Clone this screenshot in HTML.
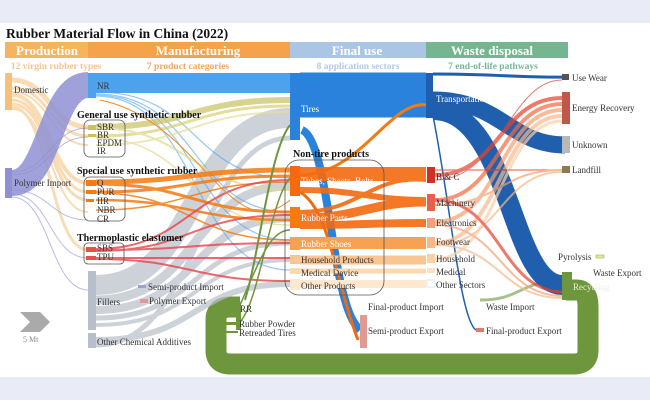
<!DOCTYPE html>
<html><head><meta charset="utf-8"><style>
html,body{margin:0;padding:0;background:#e9ebf7;}
svg{display:block;}
text{font-family:"Liberation Serif",serif;}
</style></head><body>
<svg width="650" height="400" viewBox="0 0 650 400" xmlns="http://www.w3.org/2000/svg">
<rect x="0" y="0" width="650" height="400" fill="#e9ebf7"/>
<rect x="0" y="23" width="650" height="354" fill="#ffffff"/>
<text x="6" y="38" font-size="13.5" font-weight="bold" fill="#111">Rubber Material Flow in China (2022)</text>
<!-- header bars -->
<rect x="5" y="42" width="83" height="16" fill="#f6b45e"/>
<rect x="88" y="42" width="202" height="16" fill="#f5a24c"/>
<rect x="290" y="42" width="136" height="16" fill="#abc5e5"/>
<rect x="426" y="42" width="142" height="16" fill="#73b690"/>
<g font-size="13" font-weight="bold" fill="#fff" text-anchor="middle">
<text x="47" y="55">Production</text><text x="198" y="55">Manufacturing</text>
<text x="357" y="55">Final use</text><text x="492" y="55">Waste disposal</text></g>
<g font-size="9.5" font-weight="bold" text-anchor="middle">
<text x="56" y="69" fill="#f7c48c">12 virgin rubber types</text>
<text x="188" y="69" fill="#f5a550">7 product categories</text>
<text x="358" y="69" fill="#b3c8e6">8 application sectors</text>
<text x="493" y="69" fill="#79b497">7 end-of-life pathways</text></g>

<!-- green recycling loop -->
<path d="M566 290 H576 Q588 290 588 306 V350 Q588 364 574 364 H230 Q216 364 216 350 V320 Q216 307 230 307 H240" fill="none" stroke="#6e963d" stroke-width="21"/>
<path d="M555 282 C520 282 520 300 480 300" fill="none" stroke="#6e963d" stroke-width="3" opacity=".6"/>

<!-- production flows -->
<g fill="none" opacity=".55" stroke="#f5c07a">
<path d="M12 80 C50 80 50 127 88 127" stroke-width="5"/>
<path d="M12 88 C50 88 50 136 88 136" stroke-width="3"/>
<path d="M12 95 C50 95 50 183 88 183" stroke-width="4"/>
<path d="M12 100 C50 100 50 192 88 192" stroke-width="3"/>
<path d="M12 104 C50 104 50 200 88 200" stroke-width="3"/>
<path d="M12 107 C50 107 50 250 88 250" stroke-width="3"/>
<path d="M12 109 C50 109 50 212 88 212" stroke-width="2"/>
<path d="M12 92 C50 92 50 145 88 145" stroke-width="2"/>
</g>
<path d="M12 183 C50 183 50 85 88 85" fill="none" stroke="#8f90d3" stroke-width="26" opacity=".85"/>
<g fill="none" stroke="#8f90d3" opacity=".6" stroke-width="1">
<path d="M12 172 C50 172 50 128 88 128"/><path d="M12 175 C50 175 50 137 88 137"/>
<path d="M12 190 C50 190 50 220 88 220"/><path d="M12 194 C50 194 50 258 88 258"/>
<path d="M12 197 C50 197 50 290 88 290"/>
</g>

<!-- grey filler flows -->
<g fill="none" stroke="#b8bfca" opacity=".7">
<path d="M96 285 C200 285 190 118 290 118" stroke-width="20"/>
<path d="M96 300 C200 300 190 186 290 186" stroke-width="9"/>
<path d="M96 310 C200 310 190 218 290 218" stroke-width="8"/>
<path d="M96 318 C200 318 190 243 290 243" stroke-width="5"/>
<path d="M96 325 C200 325 190 260 290 260" stroke-width="4"/>
<path d="M96 340 C200 340 190 284 290 284" stroke-width="6"/>
<path d="M96 345 C200 345 200 138 290 138" stroke-width="5"/>
</g>

<!-- NR to Tires -->
<path d="M96 83 H290" stroke="#4ea2ec" stroke-width="20" fill="none"/>
<g fill="none" stroke="#4ea2ec" opacity=".6" stroke-width="1.2">
<path d="M96 92 C200 92 190 178 290 178"/><path d="M96 94 C200 94 190 212 290 212"/>
<path d="M96 95 C200 95 190 240 290 240"/><path d="M96 96 C200 96 190 270 290 270"/>
</g>
<!-- SBR etc -->
<g fill="none" opacity=".7">
<path d="M96 127 C190 127 190 100 290 100" stroke="#c9c162" stroke-width="6"/>
<path d="M96 136 C190 136 190 106 290 106" stroke="#d9cf73" stroke-width="3"/>
<path d="M96 145 C190 145 190 112 290 112" stroke="#e6df9a" stroke-width="2"/>
<path d="M96 128 C190 128 190 190 290 190" stroke="#e2d98a" stroke-width="2"/>
<path d="M96 138 C190 138 190 225 290 225" stroke="#e2d98a" stroke-width="1.5"/>
</g>
<!-- special rubber orange -->
<g fill="none" stroke="#f57a10" opacity=".85">
<path d="M96 182 C190 182 190 170 290 170" stroke-width="5"/>
<path d="M96 184 C190 184 190 212 290 212" stroke-width="3"/>
<path d="M96 192 C190 192 190 176 290 176" stroke-width="3"/>
<path d="M96 200 C190 200 190 220 290 220" stroke-width="2.5"/>
<path d="M96 193 C190 193 190 240 290 240" stroke-width="1.5"/>
<path d="M96 210 C190 210 190 182 290 182" stroke-width="1.5"/>
</g>
<g fill="none" stroke="#e9434b" opacity=".8" stroke-width="2">
<path d="M96 249 C190 249 190 180 290 180"/><path d="M96 250 C190 250 190 243 290 243"/>
<path d="M96 258 C190 258 190 258 290 258"/><path d="M96 259 C190 259 190 281 290 281"/>
<path d="M96 251 C190 251 190 215 290 215"/>
</g>
<path d="M100 100 C200 120 230 250 290 200" fill="none" stroke="#f08a20" stroke-width="1"/>
<path d="M245 300 C260 250 270 150 290 125" fill="none" stroke="#6e963d" stroke-width="2"/>
<path d="M240 305 C260 260 270 230 290 230" fill="none" stroke="#6e963d" stroke-width="1.5"/>
<path d="M240 322 C260 300 270 200 290 178" fill="none" stroke="#6e963d" stroke-width="1.5"/>

<!-- manufacturing to final use -->
<path d="M300 95 H426" stroke="#2a82dc" stroke-width="45" fill="none"/>
<path d="M302 130 C325 140 330 250 345 300 C350 318 355 325 360 330" fill="none" stroke="#2a82dc" stroke-width="8"/>
<path d="M300 192 C330 210 335 280 358 340" fill="none" stroke="#f26a10" stroke-width="3"/>
<path d="M300 175 C360 175 390 100 426 105" fill="none" stroke="#f57a10" stroke-width="3"/>
<g fill="none" stroke="#f56a10" opacity=".9">
<path d="M300 174 H426" stroke-width="14"/>
<path d="M300 190 C360 190 370 200 426 200" stroke-width="6"/>
<path d="M300 212 C360 212 370 175 426 180" stroke-width="4"/>
<path d="M300 218 C360 218 370 202 426 202" stroke-width="9"/>
<path d="M300 225 C360 225 370 223 426 223" stroke-width="8"/>
</g>
<g fill="none" stroke="#f7a252">
<path d="M300 243 H426" stroke-width="12"/>
<path d="M300 260 H426" stroke-width="9" stroke="#fbc592"/>
<path d="M300 271 H426" stroke-width="5" stroke="#fcd9b0"/>
<path d="M300 284 H426" stroke-width="8" stroke="#fde8d0"/>
</g>
<!-- final use to waste -->
<path d="M433 74 C500 74 520 78 565 77" fill="none" stroke="#1f5fae" stroke-width="3"/>
<path d="M433 100 C500 100 510 145 565 145" fill="none" stroke="#1f5fae" stroke-width="17"/>
<path d="M433 110 C510 110 510 285 562 285" fill="none" stroke="#1f5fae" stroke-width="20"/>
<path d="M433 116 C450 200 460 320 476 330" fill="none" stroke="#1f5fae" stroke-width="1.5"/>
<g fill="none" opacity=".7">
<path d="M435 175 C500 175 500 98 562 98" stroke="#e8402a" stroke-width="4"/>
<path d="M435 200 C500 200 500 104 562 104" stroke="#f26a40" stroke-width="4"/>
<path d="M435 222 C500 222 500 110 562 110" stroke="#f7a070" stroke-width="4"/>
<path d="M435 243 C500 243 500 116 562 116" stroke="#f9b889" stroke-width="4"/>
<path d="M435 259 C500 259 500 121 562 121" stroke="#fbd0a8" stroke-width="3"/>
<path d="M435 170 H562" stroke="#e8402a" stroke-width="1.2"/>
<path d="M435 205 C500 205 500 170 562 170" stroke="#f7a070" stroke-width="2"/>
<path d="M435 245 C500 245 500 172 562 172" stroke="#f9b889" stroke-width="2"/>
<path d="M435 200 C500 200 500 290 562 292" stroke="#e8402a" stroke-width="3"/>
<path d="M435 225 C500 225 500 295 562 296" stroke="#f7a070" stroke-width="2"/>
<path d="M435 245 C500 245 500 298 562 298" stroke="#f9b889" stroke-width="2"/>
<path d="M435 180 C500 180 510 80 562 80" stroke="#e8402a" stroke-width="1"/>
</g>

<!-- nodes -->
<rect x="5" y="73" width="7" height="37" fill="#f5c07a"/>
<rect x="5" y="168" width="7" height="30" fill="#8f90d3"/>
<rect x="88" y="73" width="8" height="25" fill="#4ea2ec"/>
<rect x="88" y="271" width="8" height="59" fill="#b8bfca"/>
<rect x="88" y="333" width="8" height="15" fill="#b8bfca"/>
<rect x="290" y="73" width="10" height="67" fill="#2a82dc"/>
<rect x="290" y="166" width="10" height="30" fill="#f56a10"/>
<rect x="290" y="207" width="10" height="21" fill="#f57a10"/>
<rect x="290" y="237" width="10" height="13" fill="#f7a252"/>
<rect x="290" y="255" width="10" height="9" fill="#fbc592"/>
<rect x="290" y="268" width="10" height="6" fill="#fcd9b0"/>
<rect x="290" y="279" width="10" height="11" fill="#fde8d0"/>
<rect x="426" y="73" width="7" height="45" fill="#1f5fae"/>
<rect x="427" y="167" width="8" height="16" fill="#d0302a"/>
<rect x="427" y="194" width="8" height="17" fill="#e8604a"/>
<rect x="427" y="218" width="8" height="10" fill="#f0a080"/>
<rect x="427" y="237" width="8" height="11" fill="#f9b889"/>
<rect x="427" y="254" width="8" height="9" fill="#fbd0a8"/>
<rect x="427" y="268" width="8" height="5" fill="#fce0c4"/>
<rect x="427" y="280" width="8" height="7" fill="#fff" stroke="#ccc" stroke-width=".5"/>
<rect x="562" y="74" width="7" height="6" fill="#555"/>
<rect x="562" y="92" width="8" height="32" fill="#c0584a"/>
<rect x="562" y="136" width="8" height="17" fill="#b8b8b8"/>
<rect x="562" y="166" width="8" height="7" fill="#8c7a50"/>
<rect x="562" y="272" width="10" height="28" fill="#6e963d"/>
<rect x="596" y="255" width="8" height="3" fill="#e0e8a0" stroke="#9a3" stroke-width=".5"/>
<rect x="360" y="315" width="7" height="33" fill="#e09a94"/>
<rect x="476" y="328" width="8" height="4" fill="#e07a70"/>
<rect x="138" y="285" width="8" height="3" fill="#9aa0d8"/>
<rect x="140" y="299" width="8" height="4" fill="#e09a94"/>
<rect x="236" y="302" width="5" height="28" fill="#6e963d"/>
<rect x="225" y="322" width="13" height="3" fill="#6e963d"/>
<rect x="225" y="331" width="13" height="2" fill="#6e963d"/>
<!-- group boxes -->
<g fill="none" stroke="#555" stroke-width="0.8">
<rect x="84" y="120" width="41" height="37" rx="6"/>
<rect x="84" y="177" width="41" height="44" rx="6"/>
<rect x="84" y="243" width="40" height="21" rx="4"/>
<rect x="285" y="160" width="99" height="135" rx="14"/>
</g>
<g fill="#e8504a"><rect x="86" y="247" width="10" height="5"/><rect x="86" y="256" width="10" height="4"/></g>
<g fill="#c9c162"><rect x="88" y="125" width="8" height="5"/><rect x="88" y="134" width="8" height="3"/></g>
<g fill="#f57a10"><rect x="86" y="180" width="10" height="6"/><rect x="86" y="190" width="10" height="4"/><rect x="86" y="199" width="8" height="3"/></g>

<!-- chevron -->
<polygon points="20,312 40,312 50,322 40,332 20,332 30,322" fill="#aaa"/>
<text x="23" y="342" font-size="8" fill="#888">5 Mt</text>

<!-- labels -->
<g font-size="9" fill="#333">
<text x="14" y="93">Domestic</text>
<text x="14" y="186">Polymer Import</text>
<text x="97" y="89">NR</text>
<text x="97" y="130">SBR</text><text x="97" y="138">BR</text><text x="97" y="146">EPDM</text><text x="97" y="154">IR</text>
<text x="97" y="186">Q</text><text x="97" y="195">PUR</text><text x="97" y="204">IIR</text><text x="97" y="213">NBR</text><text x="97" y="222">CR</text>
<text x="97" y="251">SBS</text><text x="97" y="260">TPU</text>
<text x="97" y="305">Fillers</text>
<text x="97" y="345">Other Chemical Additives</text>
<text x="148" y="290">Semi-product Import</text>
<text x="149" y="304">Polymer Export</text>
<text x="240" y="312">RR</text>
<text x="239" y="327">Rubber Powder</text>
<text x="239" y="336">Retreaded Tires</text>
<text x="301" y="112" fill="#fff">Tires</text>
<text x="301" y="184" fill="#fff">Tubes, Sheets, Belts</text>
<text x="301" y="221" fill="#fff">Rubber Parts</text>
<text x="301" y="247" fill="#fff">Rubber Shoes</text>
<text x="301" y="263">Household Products</text>
<text x="301" y="276">Medical Device</text>
<text x="301" y="289">Other Products</text>
<text x="436" y="102" fill="#fff">Transportation</text>
<text x="436" y="180">B &amp; C</text>
<text x="436" y="206">Machinery</text>
<text x="436" y="226">Electronics</text>
<text x="436" y="245">Footwear</text>
<text x="436" y="262">Household</text>
<text x="436" y="275">Medical</text>
<text x="436" y="288">Other Sectors</text>
<text x="368" y="310">Final-product Import</text>
<text x="368" y="334">Semi-product Export</text>
<text x="486" y="310">Waste Import</text>
<text x="486" y="334">Final-product Export</text>
<text x="572" y="81">Use Wear</text>
<text x="572" y="111">Energy Recovery</text>
<text x="572" y="148">Unknown</text>
<text x="572" y="173">Landfill</text>
<text x="558" y="260">Pyrolysis</text>
<text x="593" y="276">Waste Export</text>
<text x="573" y="290" fill="#e8f0d8">Recycling</text>
</g>
<g font-size="10" font-weight="bold" fill="#111">
<text x="77" y="118">General use synthetic rubber</text>
<text x="77" y="174">Special use synthetic rubber</text>
<text x="77" y="241">Thermoplastic elastomer</text>
<text x="293" y="157">Non-tire products</text>
</g>
</svg>
</body></html>
